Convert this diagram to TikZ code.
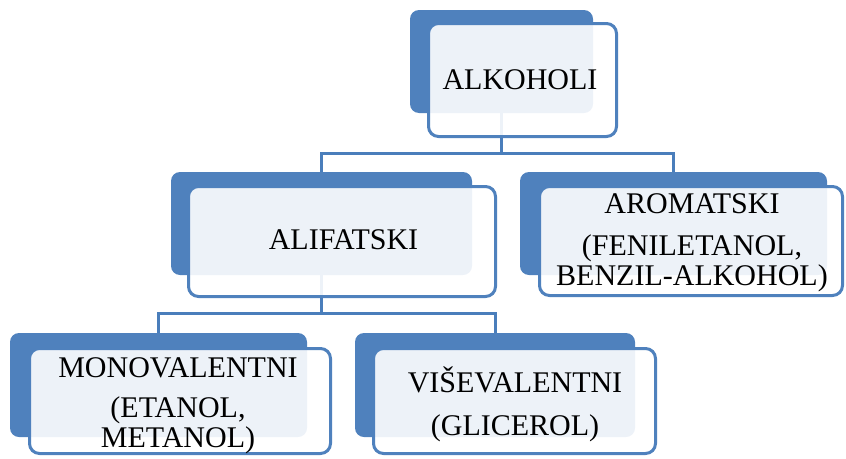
\documentclass[tikz,border=0pt]{standalone}
\usepackage{fontspec}
\setmainfont{Liberation Serif}
\definecolor{acc}{HTML}{4F81BD}
\definecolor{conn}{HTML}{4A7EBB}
\pgfdeclarelayer{bg}
\pgfsetlayers{bg,main}
\begin{document}
\begin{tikzpicture}[x=1pt,y=-1pt,
  backbox/.style={rectangle, rounded corners=9pt, fill=acc, inner sep=0pt},
  frontbox/.style={rectangle, rounded corners=10pt, draw=acc, line width=3pt, fill=white, fill opacity=0.9, draw opacity=1, inner sep=0pt},
  lbl/.style={inner sep=0pt, align=center, font={\fontsize{30}{30}\selectfont\lineskiplimit=-30pt}},
  link/.style={draw=conn, line width=3pt, line join=miter}]
\useasboundingbox (0,0) rectangle (846,458);
% back boxes
\node[backbox, minimum width=183pt, minimum height=103pt] (alkB) at (501.5,61.5) {};
\node[backbox, minimum width=301pt, minimum height=103pt] (aliB) at (321.5,223.5) {};
\node[backbox, minimum width=307pt, minimum height=103pt] (aroB) at (673.5,223.5) {};
\node[backbox, minimum width=297pt, minimum height=104pt] (monB) at (158.5,385) {};
\node[backbox, minimum width=280pt, minimum height=104pt] (visB) at (495,385) {};
% front boxes
\node[frontbox, minimum width=188pt, minimum height=113pt] (alkF) at (522.5,80) {};
\node[frontbox, minimum width=307pt, minimum height=110pt] (aliF) at (342,241.5) {};
\node[frontbox, minimum width=303pt, minimum height=109pt] (aroF) at (691,241) {};
\node[frontbox, minimum width=301pt, minimum height=105pt] (monF) at (180,401) {};
\node[frontbox, minimum width=282pt, minimum height=105pt] (visF) at (514.5,401) {};
% texts
\node[lbl] (alkT) at (520,80) {ALKOHOLI};
\node[lbl] (aliT) at (343.5,240) {ALIFATSKI};
\node[lbl] (aroT) at (692,243) {AROMATSKI\\[12pt](FENILETANOL,\\BENZIL-ALKOHOL)};
\node[lbl] (monT) at (178,405.5) {MONOVALENTNI\\[10pt](ETANOL,\\METANOL)};
\node[lbl] (visT) at (515,404) {VIŠEVALENTNI\\[13pt](GLICEROL)};
% connectors
\coordinate (j1) at (501,153);
\coordinate (j2) at (321,313);
\begin{pgfonlayer}{bg}
\draw[link] (alkB.south) -- (alkB.south |- j1);
\draw[link] (aliB.north) |- (j1) -| (aroB.north);
\draw[link] (aliB.south) -- (aliB.south |- j2);
\draw[link] (monB.north) |- (j2) -| (visB.north);
\end{pgfonlayer}
\end{tikzpicture}
\end{document}
